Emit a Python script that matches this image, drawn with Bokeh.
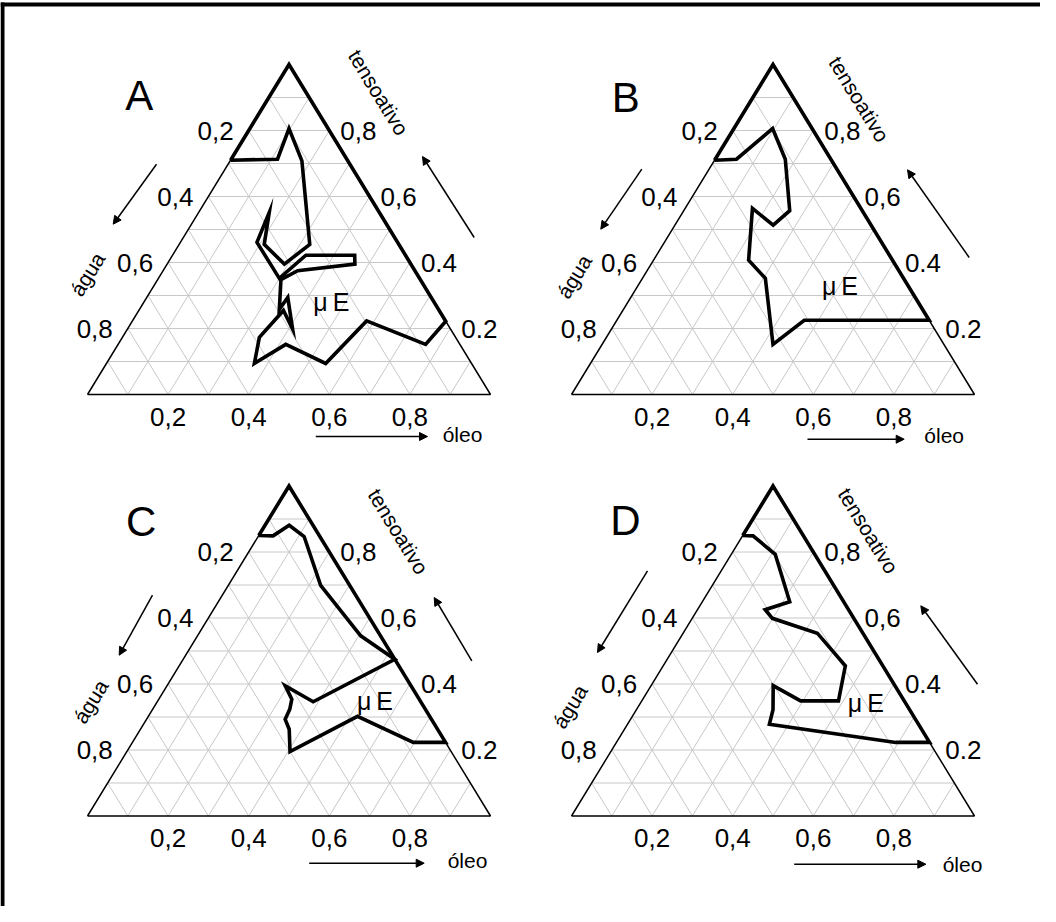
from bokeh.plotting import figure
from bokeh.models import Range1d, Arrow, NormalHead
from bokeh.core.properties import value
from bokeh.embed import file_html
from bokeh.resources import INLINE

# ---------------- data (fractions; água = 1 - óleo - tensoativo) ----------------
panel_names = ["A", "B", "C", "D"]

A_oleo = [0.0, 0.115, 0.097, 0.178, 0.324, 0.291, 0.211, 0.175, 0.190, 0.300, 0.331, 0.452, 0.466,
          0.334, 0.306, 0.347, 0.350, 0.410, 0.359, 0.340, 0.367, 0.416, 0.544, 0.581, 0.763, 0.778]
A_tens = [0.71, 0.713, 0.806, 0.708, 0.455, 0.395, 0.455, 0.552, 0.461, 0.352, 0.422, 0.422, 0.395,
          0.375, 0.348, 0.258, 0.294, 0.198, 0.2545, 0.173, 0.094, 0.152, 0.094, 0.223, 0.152, 0.222]

B_oleo = [0.0, 0.053, 0.096, 0.174, 0.263, 0.244, 0.167, 0.236, 0.305, 0.424, 0.465, 0.775]
B_tens = [0.71, 0.713, 0.806, 0.713, 0.557, 0.513, 0.564, 0.407, 0.352, 0.152, 0.225, 0.225]

C_oleo = [0.0, 0.036, 0.060, 0.114, 0.229, 0.405, 0.525, 0.387, 0.293, 0.330, 0.340, 0.344,
          0.369, 0.405, 0.519, 0.697, 0.777]
C_tens = [0.85, 0.849, 0.881, 0.847, 0.699, 0.546, 0.475, 0.346, 0.395, 0.354, 0.324, 0.293,
          0.263, 0.195, 0.302, 0.223, 0.223]

D_oleo = [0.0, 0.026, 0.109, 0.217, 0.168, 0.199, 0.333, 0.452, 0.488, 0.394, 0.303, 0.339,
          0.352, 0.693, 0.777]
D_tens = [0.85, 0.849, 0.793, 0.649, 0.625, 0.599, 0.554, 0.455, 0.349, 0.349, 0.395, 0.322,
          0.278, 0.223, 0.223]

grid_values = [0.1, 0.2, 0.3, 0.4, 0.5, 0.6, 0.7, 0.8, 0.9]
agua_tick_values = [0.2, 0.4, 0.6, 0.8]
agua_tick_labels = ["0,2", "0,4", "0,6", "0,8"]
tens_tick_values = [0.8, 0.6, 0.4, 0.2]
tens_tick_labels = ["0,8", "0,6", "0.4", "0.2"]
oleo_tick_values = [0.2, 0.4, 0.6, 0.8]
oleo_tick_labels = ["0,2", "0,4", "0,6", "0,8"]
axis_names = {"agua": "água", "tens": "tensoativo", "oleo": "óleo"}
region_label = "μ\u2009E"

curves = {"A": (A_oleo, A_tens), "B": (B_oleo, B_tens),
          "C": (C_oleo, C_tens), "D": (D_oleo, D_tens)}

# ---------------- layout (page pixels) ----------------
M = 8  # page margin
W_FIG, H_FIG = 1040, 906
TRI_W, TRI_H = 403, 330
origin = {"A": (95, 402), "B": (579, 402), "C": (95, 823.5), "D": (579, 823.5)}
letter_pos = {"A": (146.7, 103.3), "B": (633.3, 105), "C": (148.7, 529), "D": (633, 528)}
mu_pos = {"A": (338.8, 309), "B": (847.5, 293), "C": (382.5, 708.7), "D": (873.3, 710.7)}
oleo_lbl = {"A": (470, 441.7), "B": (951.7, 443.3), "C": (475, 868.3), "D": (970, 871.7)}
agua_lbl = {"A": (95, 281.7), "B": (581.7, 284), "C": (98.3, 709), "D": (577.5, 714)}
tens_lbl = {"A": (386, 100), "B": (866.7, 106.7), "C": (405.8, 539), "D": (875.8, 538.3)}
arrow_left = {"A": ((164, 171.7), (120.7, 231.7)), "B": ((649.3, 176.7), (608.3, 236.7)),
              "C": ((160, 602.7), (126.7, 662.7)), "D": ((655, 578.3), (605, 660))}
arrow_right = {"A": ((481.7, 245), (430, 164)), "B": ((976.7, 265), (915, 177.3)),
               "C": ((479.3, 668.3), (441.7, 605)), "D": ((985, 691.7), (928.3, 613.3))}
arrow_bottom = {"A": ((323.3, 444), (435, 444)), "B": ((815, 446.7), (911.7, 446.7)),
                "C": ((316.7, 870.7), (431.7, 870.7)), "D": ((801.7, 871.7), (933.3, 871.7))}

FONT = value("Liberation Sans")

p = figure(width=W_FIG, height=H_FIG, x_range=Range1d(0, W_FIG), y_range=Range1d(H_FIG, 0),
           output_backend="svg", toolbar_location=None, x_axis_type=None, y_axis_type=None,
           min_border=0)
p.grid.visible = False
p.outline_line_color = None
p.background_fill_color = "white"


def pg(x, y):
    return x - M, y - M


def tern(panel, o, t):
    x0, yb = origin[panel]
    return x0 + TRI_W * (o + t / 2.0) - M, yb - TRI_H * t - M


# outer frame (top and left edges visible)
p.line([0, W_FIG], [4, 4], line_width=4, line_color="black")
p.line([2, 2], [2, H_FIG], line_width=4, line_color="black")

for name in panel_names:
    # grid
    gx, gy = [], []
    for v in grid_values:
        for (o1, t1, o2, t2) in [(0, v, 1 - v, v), (v, 0, v, 1 - v), (1 - v, 0, 0, 1 - v)]:
            a = tern(name, o1, t1)
            b = tern(name, o2, t2)
            gx.append([a[0], b[0]])
            gy.append([a[1], b[1]])
    p.multi_line(gx, gy, line_color="#c8c8c8", line_width=1)

    # thin triangle edges
    tri = [tern(name, o, t) for o, t in [(0, 0), (1, 0), (0, 1), (0, 0)]]
    p.line([q[0] for q in tri], [q[1] for q in tri], line_color="black", line_width=1.5)

    # µE region boundary (curve + apex), thick
    oo, tt = curves[name]
    pts = [tern(name, o, t) for o, t in zip(oo, tt)]
    pts += [tern(name, 0, 1), pts[0]]
    p.line([q[0] for q in pts], [q[1] for q in pts], line_color="black", line_width=3.6,
           line_join="miter")

    # tick labels
    ax, ay = [], []
    for a in agua_tick_values:
        x, y = tern(name, 0, 1 - a)
        ax.append(x - 15)
        ay.append(y)
    p.text(ax, ay, text=agua_tick_labels, text_font=FONT, text_font_size="26px",
           text_align="right", text_baseline="middle", text_color="black")
    tx, ty = [], []
    for t in tens_tick_values:
        x, y = tern(name, 1 - t, t)
        tx.append(x + 11)
        ty.append(y)
    p.text(tx, ty, text=tens_tick_labels, text_font=FONT, text_font_size="26px",
           text_align="left", text_baseline="middle", text_color="black")
    ox, oy = [], []
    for o in oleo_tick_values:
        x, y = tern(name, o, 0)
        ox.append(x)
        oy.append(y + 22)
    p.text(ox, oy, text=oleo_tick_labels, text_font=FONT, text_font_size="26px",
           text_align="center", text_baseline="middle", text_color="black")

    # axis names
    x, y = pg(*oleo_lbl[name])
    p.text([x], [y], text=[axis_names["oleo"]], text_font=FONT, text_font_size="21px",
           text_align="center", text_baseline="middle")
    x, y = pg(*agua_lbl[name])
    p.text([x], [y], text=[axis_names["agua"]], text_font=FONT, text_font_size="21px",
           text_align="center", text_baseline="middle", angle=1.023)
    x, y = pg(*tens_lbl[name])
    p.text([x], [y], text=[axis_names["tens"]], text_font=FONT, text_font_size="21px",
           text_align="center", text_baseline="middle", angle=-1.023)

    # panel letter and region label
    x, y = pg(*letter_pos[name])
    p.text([x], [y], text=[name], text_font=FONT, text_font_size="42px",
           text_align="center", text_baseline="middle")
    x, y = pg(*mu_pos[name])
    p.text([x], [y], text=[region_label], text_font=FONT, text_font_size="25px",
           text_align="center", text_baseline="middle")

    # arrows
    for arr in (arrow_left, arrow_right, arrow_bottom):
        (xs, ys), (xe, ye) = arr[name]
        xs, ys = pg(xs, ys)
        xe, ye = pg(xe, ye)
        p.add_layout(Arrow(end=NormalHead(size=8, fill_color="black", line_color="black",
                                          line_width=1),
                           x_start=xs, y_start=ys, x_end=xe, y_end=ye,
                           line_width=1.5, line_color="black"))

open("out.html", "w").write(file_html(p, INLINE))
